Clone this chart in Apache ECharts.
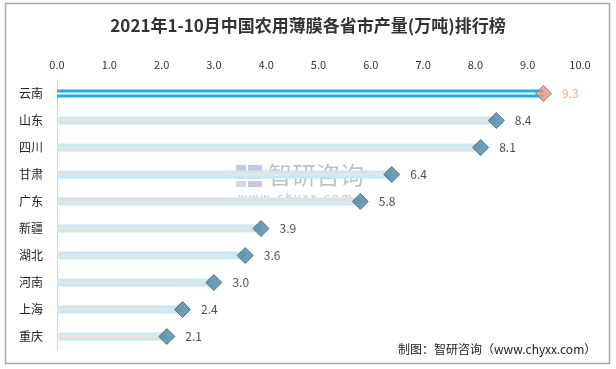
<!DOCTYPE html>
<html><head><meta charset="utf-8">
<script src="https://cdn.jsdelivr.net/npm/echarts@6/dist/echarts.min.js"></script>
<style>html,body{margin:0;padding:0;background:#fff}#c{width:616px;height:369px}</style>
</head><body><div id="c"></div>
<script>
var categories = ['云南','山东','四川','甘肃','广东','新疆','湖北','河南','上海','重庆'];
var values = [9.3, 8.4, 8.1, 6.4, 5.8, 3.9, 3.6, 3.0, 2.4, 2.1];
var xMin = 0, xMax = 10, xStep = 1;
var titleText = '2021年1-10月中国农用薄膜各省市产量(万吨)排行榜';
var sourceText = '制图：智研咨询（www.chyxx.com）';

var chart = echarts.init(document.getElementById('c'), null, {renderer:'canvas'});
var font = '"Noto Sans CJK SC","Noto Sans",sans-serif';
var option = {
  animation:false,
  backgroundColor:'#fff',
  title:{text:titleText,left:'center',top:12,textStyle:{fontFamily:font,fontSize:17,fontWeight:'bold',color:'#333'}},
  grid:{left:57,right:36,top:80,bottom:19,containLabel:false},
  xAxis:{type:'value',position:'top',min:xMin,max:xMax,interval:xStep,
    axisLine:{show:false},axisTick:{show:false},splitLine:{show:false},
    axisLabel:{margin:10,fontSize:11,color:'#333',fontFamily:font,formatter:function(v){return v.toFixed(1);}}},
  yAxis:[
    {type:'category',data:categories,inverse:true,
      axisLine:{show:true,lineStyle:{color:'#d0d0d0',width:1}},axisTick:{show:false},
      axisLabel:{margin:14,fontSize:12,color:'#222',fontFamily:font}},
    {type:'category',data:categories,inverse:true,position:'left',show:false}
  ],
  graphic:[
    {type:'rect',shape:{x:5.5,y:3.5,width:604,height:360},style:{fill:'none',stroke:'#a6a6a6',lineWidth:1.5},z:-1},
    {type:'text',left:398,top:343,style:{text:sourceText,fontSize:12,fill:'#222',fontFamily:font}},
    {type:'group',left:236,top:163,children:[
      {type:'rect',shape:{x:0,y:0,width:10,height:14},style:{fill:'rgba(120,140,180,0.45)'}},
      {type:'rect',shape:{x:12,y:0,width:14,height:6},style:{fill:'rgba(120,140,180,0.45)'}},
      {type:'rect',shape:{x:12,y:8,width:14,height:6},style:{fill:'rgba(120,140,180,0.35)'}},
      {type:'rect',shape:{x:0,y:16,width:10,height:6},style:{fill:'rgba(120,140,180,0.35)'}},
      {type:'rect',shape:{x:12,y:16,width:14,height:6},style:{fill:'rgba(120,140,180,0.45)'}},
      {type:'text',x:32,y:-2,style:{text:'智研咨询',fontSize:24,fill:'rgba(140,140,140,0.55)',fontFamily:font}},
      {type:'text',x:2,y:26,style:{text:'w w w . c h y x x . c o m',fontSize:11,fill:'rgba(140,140,140,0.55)',fontFamily:font}}
    ]}
  ],
  series:[
    {type:'bar',barWidth:8,z:2,silent:true,yAxisIndex:0,
      data:values.map(function(v,i){return {value:v,itemStyle:{color:i===0?'#1cb0ea':'#c6e9f7'}};})},
    {type:'bar',barWidth:2,z:3,silent:true,yAxisIndex:1,
      data:values.map(function(v,i){return {value:v,itemStyle:{color:i===0?'#ffffff':'#f4e3cc'}};})},
    {type:'scatter',symbol:'diamond',symbolSize:[16,16],z:5,yAxisIndex:0,
      itemStyle:{color:'#4b85a2',borderColor:'#2a6683',borderWidth:1},
      label:{show:true,position:'right',distance:10,fontSize:12,color:'#222',fontFamily:font,
        formatter:function(p){return p.value[0].toFixed(1);}},
      data:values.map(function(v,i){
        var d={value:[v,i]};
        if(i===0){d.itemStyle={color:'#f2907a',borderColor:'#6f6a6a'};d.label={color:'#f2907a'};}
        return d;})}
  ]
};
chart.setOption(option);
</script></body></html>
